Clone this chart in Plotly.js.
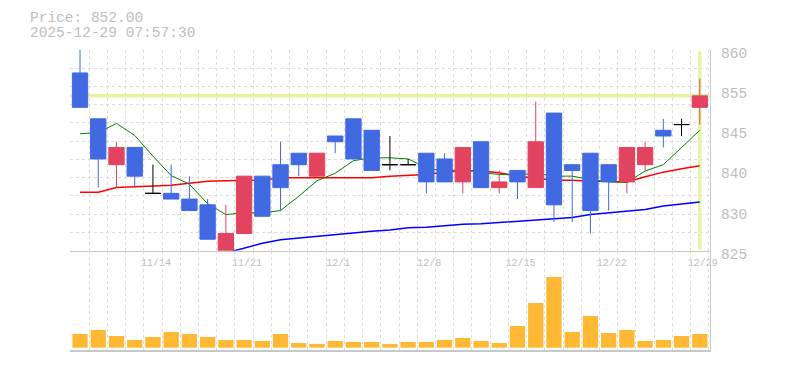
<!DOCTYPE html>
<html>
<head>
<meta charset="utf-8">
<script src="https://cdn.plot.ly/plotly-3.0.1.min.js"></script>
<style>html,body{margin:0;padding:0;background:#fff;}#chart{width:785px;height:370px;}</style>
</head>
<body>
<div id="chart"></div>
<script>
// ---- data ----
const dates = ['11/10','11/11','11/12','11/13','11/14','11/17','11/18','11/19','11/20','11/21',
  '11/25','11/26','11/27','11/28','12/1','12/2','12/3','12/4','12/5','12/8',
  '12/9','12/10','12/11','12/12','12/15','12/16','12/17','12/18','12/19','12/22',
  '12/23','12/24','12/25','12/26','12/29'];
const tickLabels = ['11/14','11/21','12/1','12/8','12/15','12/22','12/29'];
const priceTickVals = [825, 832, 839, 846, 853, 860];
const priceTickText = ['825', '830', '840', '845', '855', '860'];
const priceRange = [825, 860];

const open  = [856,848,840,843,835,835,834,833,824.5,828,838,840,842,838,845,848,846,840,840,842,841,837,844,836,839,836,849,840,842,840,837,840,846,847,850];
const high  = [861,848,844,843,840,840,838,834,833,838,838,844,842,842,845,848,846,845,841,842,842,843,844,839,839,851,849,840,842,840,843,844,848,848,855];
const low   = [850,836,836,836,835,834,832,827,824.5,828,831,832,838,838,842,841,839,839,840,835,837,835,836,835,834,836,830,830,828,832,835,839,843,845,847];
const close = [850,841,843,838,835,834,832,827,828,838,831,836,840,842,844,841,839,840,840,837,837,843,836,837,837,844,833,839,832,837,843,843,845,847,852];

const volume = [137,177,117,77,107,157,137,107,77,77,67,137,47,37,67,57,57,37,57,57,77,97,67,47,217,447,707,157,317,147,177,67,77,117,137];

const ma5  = [845.4,845.6,847.2,845.1,841.5,838.1,836.6,833.2,831.3,831.6,831.6,832.0,834.5,837.2,838.5,840.7,841.2,841.2,841.0,839.5,838.8,839.3,838.6,838.3,838.2,838.5,838.0,838.0,837.4,837.0,836.9,838.9,840.0,843.0,846.0];
const ma25 = [835.2,835.2,836.0,836.2,836.3,836.4,836.8,837.1,837.2,837.2,837.3,837.7,837.7,837.7,837.8,837.8,837.7,838.0,838.1,838.3,838.7,839.0,838.9,838.6,838.0,837.7,837.3,837.3,837.1,837.1,837.0,837.9,838.7,839.3,839.8];
const ma75 = [null,null,null,null,null,null,null,null,824.6,825.5,826.3,826.9,827.2,827.6,827.9,828.2,828.4,828.6,829.0,829.1,829.4,829.6,829.7,829.9,830.1,830.3,830.6,830.8,831.3,831.6,831.9,832.2,832.8,833.2,833.5];

// ---- build traces ----
const idx = dates.map((d, i) => i);
const xRange = [-0.55, 34.56];
const RED = '#E2445F', BLUE = '#4169E1', GRID = '#dcdcdc', TXT = '#bdbdbd', AXL = '#c8c8c8', HILITE = '#E4F5A2';
const MONO = 'Liberation Mono, DejaVu Sans Mono, monospace';
const last = idx.length - 1;

function subset(cond) {
  const s = {x: [], open: [], high: [], low: [], close: []};
  idx.forEach(i => {
    if (cond(open[i], close[i])) {
      s.x.push(i); s.open.push(open[i]); s.high.push(high[i]); s.low.push(low[i]); s.close.push(close[i]);
    }
  });
  return s;
}
function candle(s, color) {
  return Object.assign({
    type: 'candlestick', xaxis: 'x3', yaxis: 'y3', hoverinfo: 'skip', showlegend: false,
    whiskerwidth: 0,
    increasing: {line: {color: color, width: 1}, fillcolor: color},
    decreasing: {line: {color: color, width: 1}, fillcolor: color}
  }, s);
}
function line(x, y, color, width) {
  return {type: 'scatter', mode: 'lines', x: x, y: y, xaxis: 'x', yaxis: 'y',
    line: {color: color, width: width}, hoverinfo: 'skip', showlegend: false};
}

const traces = [
  // current price / current day highlight
  line(xRange, [close[last], close[last]], HILITE, 3.5),
  line([last, last], [priceRange[0] + 0.2, priceRange[1] - 0.2], HILITE, 3.5),
  // moving averages
  line(idx, ma75, '#0000ff', 1.5),
  line(idx, ma25, '#ff0000', 1.5),
  line(idx, ma5, '#008000', 1),
  // candles
  candle(subset((o, c) => c > o), RED),
  candle(subset((o, c) => c < o), BLUE),
  candle(subset((o, c) => c === o), '#000000'),
  // volume
  {type: 'bar', x: idx, y: volume, xaxis: 'x2', yaxis: 'y2', width: 0.84, marker: {color: '#FFB833', line: {width: 0}}, hoverinfo: 'skip', showlegend: false}
];

const priceDomain = [0.331, 1];

const layout = {
  width: 785, height: 370,
  margin: {l: 70, r: 75, t: 50, b: 20},
  paper_bgcolor: '#fff', plot_bgcolor: '#fff',
  showlegend: false,
  boxgap: 0.16, boxgroupgap: 0,
  xaxis: {domain: [0, 1], anchor: 'y', range: xRange, tickmode: 'linear', tick0: -0.5, dtick: 1,
    showgrid: true, gridcolor: GRID, griddash: '3px,3px', gridwidth: 1,
    showticklabels: false, ticks: '', zeroline: false, showline: true, linecolor: AXL, linewidth: 1,
    fixedrange: true, rangeslider: {visible: false}},
  yaxis: {domain: priceDomain, anchor: 'x', range: priceRange, tickmode: 'linear', tick0: 825, dtick: 35 / 11 - 1e-7,
    showgrid: true, gridcolor: GRID, griddash: '3px,3px', gridwidth: 1,
    showticklabels: false, ticks: '', zeroline: false, side: 'right', showline: true, linecolor: AXL, linewidth: 1, fixedrange: true},
  xaxis3: {overlaying: 'x', anchor: 'y3', range: xRange, tickmode: 'array',
    tickvals: tickLabels.map(t => dates.indexOf(t)), ticktext: tickLabels,
    showgrid: false, zeroline: false, showline: false, ticks: '', ticklabelshift: 3, ticklabelstandoff: 4,
    tickfont: {family: MONO, size: 10, color: TXT}, fixedrange: true, rangeslider: {visible: false}},
  yaxis3: {overlaying: 'y', anchor: 'x3', side: 'right', range: priceRange, tickmode: 'array',
    tickvals: priceTickVals, ticktext: priceTickText, showgrid: false, zeroline: false, showline: false,
    ticks: '', ticklabelstandoff: 10, ticklabelshift: 3,
    tickfont: {family: MONO, size: 14.5, color: TXT}, fixedrange: true},
  xaxis2: {domain: [0, 1], anchor: 'y2', range: xRange, tickmode: 'linear', tick0: -0.5, dtick: 1,
    showgrid: true, gridcolor: GRID, griddash: '3px,3px', gridwidth: 1,
    showticklabels: false, ticks: '', zeroline: false, showline: true, linecolor: AXL, linewidth: 1.5, fixedrange: true},
  yaxis2: {domain: [0, priceDomain[0]], anchor: 'x2', range: [-23, 970], side: 'right',
    showgrid: false, showticklabels: false, ticks: '', zeroline: false, showline: true, linecolor: AXL, linewidth: 1, fixedrange: true},
  annotations: [
    {xref: 'paper', yref: 'paper', x: -0.066, y: 1.1067, xanchor: 'left', yanchor: 'middle', showarrow: false,
      text: 'Price: ' + close[last].toFixed(2), font: {family: MONO, size: 14.5, color: TXT}},
    {xref: 'paper', yref: 'paper', x: -0.066, y: 1.0567, xanchor: 'left', yanchor: 'middle', showarrow: false,
      text: '2025-12-29 07:57:30', font: {family: MONO, size: 14.5, color: TXT}}
  ]
};

Plotly.newPlot('chart', traces, layout, {staticPlot: true, displayModeBar: false});
</script>
</body>
</html>
